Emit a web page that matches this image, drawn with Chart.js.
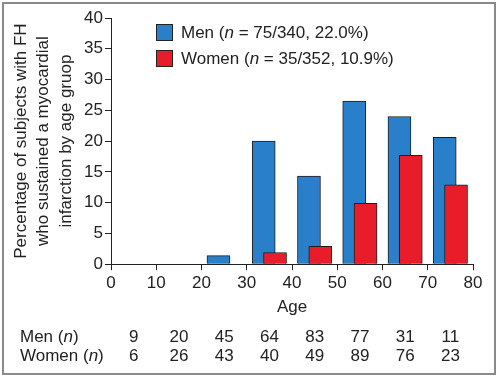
<!DOCTYPE html>
<html>
<head>
<meta charset="utf-8">
<script src="https://cdn.jsdelivr.net/npm/chart.js@4"></script>
<style>
  body { margin: 0; background: #fff; }
  #wrap { position: relative; width: 500px; height: 375px; }
  #frame { position: absolute; left: 2px; top: 2px; width: 490px; height: 369px; border: 2px solid #8a8a8a; pointer-events: none; }
</style>
</head>
<body>
<div id="wrap">
  <canvas id="chart" width="500" height="375"></canvas>
  <div id="frame"></div>
</div>
<script>
// age groups (start of each 10-year band)
var ageGroups = [0, 10, 20, 30, 40, 50, 60, 70];
var menPct = [0, 0, 1.4, 20.0, 14.3, 26.5, 24.0, 20.6];
var womenPct = [0, 0, 0, 1.9, 2.9, 9.9, 17.7, 12.9];
var menN = [9, 20, 45, 64, 83, 77, 31, 11];
var womenN = [6, 26, 43, 40, 49, 89, 76, 23];
var menLabel = ['Men (', 'n', ' = 75/340, 22.0%)'];
var womenLabel = ['Women (', 'n', ' = 35/352, 10.9%)'];
var yTitle = ['Percentage of subjects with FH', 'who sustained a myocardial', 'infarction by age gruop'];

var FONT = '"Liberation Sans", Arial, sans-serif';
var BLUE = '#2a7fca';
var RED = '#e91d2a';

var menData = [], womenData = [];
for (var i = 0; i < ageGroups.length; i++) {
    menData.push({ x: ageGroups[i] + 3.75, y: menPct[i] });
    womenData.push({ x: ageGroups[i] + 6.25, y: womenPct[i] });
}

// draws text parts, every second part in italic
function drawParts(ctx, parts, x, y, align) {
    var w = [];
    var total = 0;
    for (var k = 0; k < parts.length; k++) {
        ctx.font = (k % 2 ? 'italic ' : '') + '17px ' + FONT;
        w[k] = ctx.measureText(parts[k]).width;
        total += w[k];
    }
    if (align === 'center') x -= total / 2;
    ctx.textAlign = 'left';
    for (var k = 0; k < parts.length; k++) {
        ctx.font = (k % 2 ? 'italic ' : '') + '17px ' + FONT;
        ctx.fillText(parts[k], x, y);
        x += w[k];
    }
}

var extras = {
    id: 'extras',
    afterDraw: function (chart) {
        var ctx = chart.ctx;
        var area = chart.chartArea;
        var xs = chart.scales.x;
        ctx.save();
        ctx.fillStyle = '#222';
        ctx.textBaseline = 'middle';

        // legend
        var lx = area.left + 45, ly = area.top + 6;
        var items = [[BLUE, menLabel], [RED, womenLabel]];
        for (var k = 0; k < items.length; k++) {
            ctx.fillStyle = items[k][0];
            ctx.fillRect(lx, ly + k * 26, 17, 17);
            ctx.strokeStyle = '#222';
            ctx.lineWidth = 1;
            ctx.strokeRect(lx + 0.5, ly + k * 26 + 0.5, 16, 16);
            ctx.fillStyle = '#222';
            drawParts(ctx, items[k][1], lx + 25, ly + k * 26 + 9);
        }

        // n table under the axis
        var rows = [[['Men (', 'n', ')'], menN], [['Women (', 'n', ')'], womenN]];
        for (var r = 0; r < rows.length; r++) {
            var y = area.bottom + 73 + r * 19;
            drawParts(ctx, rows[r][0], 20, y);
            ctx.font = '17px ' + FONT;
            ctx.textAlign = 'center';
            for (var i = 0; i < ageGroups.length; i++) {
                ctx.fillText(String(rows[r][1][i]), xs.getPixelForValue(ageGroups[i] + 5), y);
            }
        }
        ctx.restore();
    }
};

const ctx = document.getElementById('chart').getContext('2d');
const myChart = new Chart(ctx, {
    type: 'bar',
    data: {
        datasets: [{
            label: 'Men',
            data: menData,
            backgroundColor: BLUE,
            borderColor: '#1e1e1e',
            borderWidth: 1,
            order: 2
        }, {
            label: 'Women',
            data: womenData,
            backgroundColor: RED,
            borderColor: '#1e1e1e',
            borderWidth: 1,
            order: 1
        }]
    },
    options: {
        responsive: false,
        animation: false,
        layout: { padding: { left: 6, right: 27, top: 18, bottom: 57 } },
        datasets: { bar: { grouped: false, barThickness: 23 } },
        plugins: { legend: { display: false }, tooltip: { enabled: false } },
        scales: {
            x: {
                type: 'linear',
                min: 0,
                max: 80,
                offset: false,
                grid: { offset: false, drawOnChartArea: false, tickLength: 6, color: '#222' },
                border: { color: '#222', width: 1 },
                ticks: { stepSize: 10, padding: 3, color: '#222', font: { family: FONT, size: 17 } },
                title: { display: true, text: 'Age', color: '#222', padding: { top: 1, bottom: 0 }, font: { family: FONT, size: 17 } }
            },
            y: {
                min: 0,
                max: 40,
                grid: { drawOnChartArea: false, tickLength: 6, color: '#222' },
                border: { color: '#222', width: 1 },
                ticks: { stepSize: 5, padding: 2, color: '#222', font: { family: FONT, size: 17 } },
                title: { display: true, text: yTitle, color: '#222', padding: { top: 4, bottom: 0 }, font: { family: FONT, size: 17, lineHeight: 1.32 } },
                afterFit: function (scale) { scale.width = 105; }
            }
        }
    },
    plugins: [extras]
});
</script>
</body>
</html>
